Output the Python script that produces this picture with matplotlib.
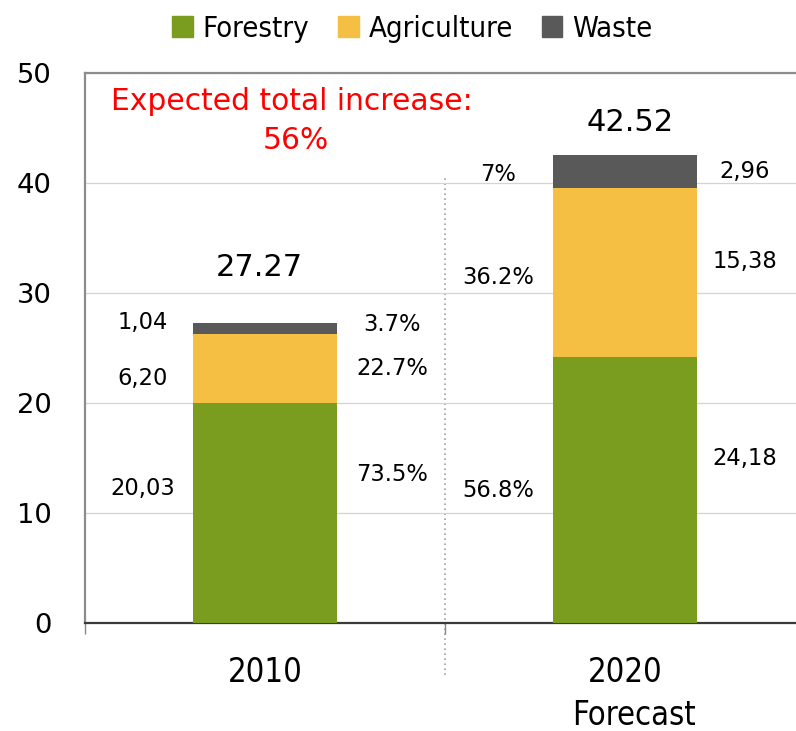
import matplotlib

matplotlib.use("Agg")  # headless
import matplotlib.pyplot as plt
import numpy as np
from matplotlib.patches import Patch

# --- data --------------------------------------------------------------------
years = ["2010", "2020"]
forestry = [20.03, 24.18]
agriculture = [6.20, 15.38]
waste = [1.04, 2.96]
pct_labels = [["73.5%", "22.7%", "3.7%"], ["56.8%", "36.2%", "7%"]]
headline = ["Expected total increase:", "56%"]

# label layout (hand placed in the original): x offset from bar centre, y in data units
val_x = [-0.339, 0.333]
pct_x = [0.353, -0.353]
val_y = [[12.45, 22.45, 27.55], [15.18, 33.09, 41.27]]
pct_y = [[13.73, 23.36, 27.36], [12.23, 31.64, 41.0]]
total_dx = [-0.017, 0.014]
total_y = [32.55, 45.73]

colors = {"Forestry": "#7a9d1f", "Agriculture": "#f4bf42", "Waste": "#595959"}

fig = plt.figure(figsize=(7.96, 7.31), dpi=100)
ax = fig.add_axes([85 / 796, 108 / 731, 720 / 796, 550 / 731])

x = np.arange(len(years))
w = 0.4
ax.bar(x, forestry, w, color=colors["Forestry"], zorder=3)
ax.bar(x, agriculture, w, bottom=forestry, color=colors["Agriculture"], zorder=3)
bottom2 = np.add(forestry, agriculture)
ax.bar(x, waste, w, bottom=bottom2, color=colors["Waste"], zorder=3)

ax.set_xlim(-0.5, 1.5)
ax.set_ylim(0, 50)
ax.set_yticks([0, 10, 20, 30, 40, 50])
ax.tick_params(axis="y", length=0, pad=24, labelsize=19.7)
ax.grid(axis="y", color="#d4d4d4", linewidth=0.9, zorder=0)

ax.set_xticks(x)
ax.set_xticklabels(years)
for lab in ax.get_xticklabels():
    lab.set_fontsize(23.5)
    lab.set_fontstretch("condensed")
ax.tick_params(axis="x", which="major", length=0, pad=24)
ax.set_xticks([-0.5, 0.5, 1.5], minor=True)
ax.tick_params(axis="x", which="minor", length=8, width=1, color="#888888")
ax.text(1.025, -0.186, "Forecast", transform=ax.get_xaxis_transform(),
        ha="center", va="baseline", fontsize=23.5, fontstretch="condensed")

for side in ["left", "top"]:
    ax.spines[side].set_color("#8c8c8c")
    ax.spines[side].set_linewidth(1.6)
ax.spines["bottom"].set_color("#3a3a3a")
ax.spines["bottom"].set_linewidth(1.6)
ax.spines["right"].set_visible(False)

# dotted divider between the two years
ax.plot([0.5, 0.5], [-4.7, 40.5], color="#a0a0a0", linestyle=(0, (1, 2)),
        linewidth=1.2, clip_on=False, zorder=1)

# value / share labels
for i in range(len(years)):
    vals = [forestry[i], agriculture[i], waste[i]]
    for j, v in enumerate(vals):
        ax.text(x[i] + val_x[i], val_y[i][j], f"{v:.2f}".replace(".", ","),
                ha="center", va="center_baseline", fontsize=16.3)
        ax.text(x[i] + pct_x[i], pct_y[i][j], pct_labels[i][j],
                ha="center", va="center_baseline", fontsize=16.3)
    ax.text(x[i] + total_dx[i], total_y[i], f"{sum(vals):.2f}",
            ha="center", va="center_baseline", fontsize=22)

ax.text(0.076, 47.64, headline[0], color="#ff0000", ha="center",
        va="center_baseline", fontsize=21.4)
ax.text(0.086, 44.18, headline[1], color="#ff0000", ha="center",
        va="center_baseline", fontsize=21.4)

handles = [Patch(color=c, label=k) for k, c in colors.items()]
fig.legend(handles=handles, loc="center", bbox_to_anchor=(0.518, 0.961), ncol=3,
           frameon=False, handlelength=0.7, handleheight=0.75, handletextpad=0.33,
           columnspacing=1.0, prop=dict(family="DejaVu Sans", stretch="condensed", size=21))

fig.savefig("out.png", dpi=100)
